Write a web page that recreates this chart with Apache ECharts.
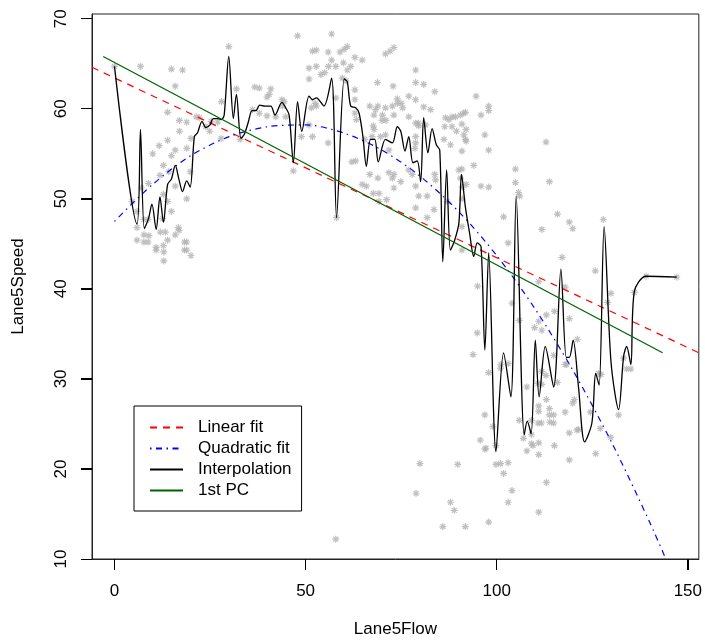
<!DOCTYPE html>
<html><head><meta charset="utf-8">
<script src="https://cdn.jsdelivr.net/npm/echarts@6/dist/echarts.min.js"></script>
<style>html,body{margin:0;padding:0;background:#fff}#c{width:705px;height:643px}</style>
</head><body><div id="c"></div>
<script>
const xTicks = [0, 50, 100, 150];
const yTicks = [10, 20, 30, 40, 50, 60, 70];
const seriesNames = ['Linear fit', 'Quadratic fit', 'Interpolation', '1st PC'];

// observed (Lane5Flow, Lane5Speed) points
const observations = [
[0,64.7],[6.8,64.7],[14.9,64.4],[17.8,64.3],[15.9,62.5],[13.9,59.6],[17.0,58.7],[18.9,58.5],[17.0,57.5],[13.9,56.5],
[11.7,55.9],[10.0,55.0],[15.9,55.4],[14.9,54.8],[18.9,55.6],[20.0,56.7],[12.8,53.7],[14.2,53.0],[11.9,52.6],[19.8,53.0],
[15.9,51.4],[8.9,51.7],[7.0,51.2],[18.9,50.0],[12.8,50.5],[13.9,49.7],[4.6,49.7],[14.9,48.6],[5.9,48.6],[5.9,46.8],
[7.7,47.7],[8.8,47.7],[12.6,47.8],[5.9,45.4],[7.7,45.2],[8.8,45.2],[7.7,46.0],[9.0,45.9],[12.0,46.3],[13.3,46.3],
[10.9,44.6],[12.8,44.8],[13.9,45.4],[16.9,46.5],[16.7,46.8],[15.9,46.0],[18.3,45.2],[18.9,45.2],[18.3,44.3],[18.9,44.3],
[12.9,44.1],[12.9,43.1],[20.0,43.7],[10.9,44.3],
[29.9,66.9],[31.9,62.2],[28.0,60.8],[32.9,56.6],[36.7,62.4],[37.9,62.3],[40.9,62.2],[40.5,61.6],[39.9,61.3],[43.8,61.0],
[36.1,59.9],[37.9,59.5],[39.9,59.2],[42.2,59.1],[23.9,58.0],[22.2,59.0],[25.3,58.6],[27.0,58.5],[27.9,56.7],[21.4,59.1],[24.9,57.5],
[47.9,68.1],[56.8,68.3],[51.8,66.4],[52.8,66.5],[55.9,66.3],[59.0,66.3],[60.1,66.6],[60.9,66.9],[56.8,65.4],[59.9,65.1],
[50.9,64.5],[52.8,64.7],[56.0,64.7],[57.9,64.7],[60.9,64.3],[61.8,64.7],[62.9,65.7],[64.8,65.4],[54.0,63.8],[55.0,64.0],
[50.9,63.3],[70.9,66.1],[72.1,66.4],[73.1,66.8],[59.6,63.4],[60.6,63.1],[62.9,62.1],[62.9,61.0],[57.9,61.2],[68.8,62.9],
[72.9,62.5],[78.8,64.3],[78.8,62.9],[80.9,62.7],[83.8,61.9],[77.0,61.4],[74.0,61.1],[78.8,61.0],[80.9,60.2],[44.4,60.8],
[44.0,60.3],[44.8,59.1],[52.5,60.6],[51.5,60.1],[52.8,60.3],[66.8,60.3],[68.9,60.3],[68.3,59.9],[67.9,59.3],[70.9,60.1],
[72.7,60.3],[74.0,60.6],[75.0,60.6],[75.4,60.1],[73.1,59.3],[70.1,59.3],[71.0,58.7],[70.0,58.7],[77.0,59.1],[78.8,58.4],
[79.5,58.4],[79.6,58.1],[82.7,59.9],[81.4,58.2],[62.9,59.5],[63.3,58.8],[67.7,58.1],[67.9,57.7],[50.9,58.2],[51.8,56.9],
[55.9,56.2],[48.9,56.9],[46.8,53.1],[65.5,56.6],[67.4,56.9],[70.9,57.1],[69.6,56.9],[71.8,55.4],[62.1,54.1],[63.1,54.2],
[64.8,51.6],[65.9,51.4],[66.8,52.7],[68.9,52.3],[67.7,50.6],[69.2,50.6],[71.8,52.9],[73.1,52.7],[72.7,52.3],[73.1,51.2],
[71.2,49.9],[69.2,49.7],[74.9,51.9],[77.0,53.2],[77.9,52.7],[78.8,51.4],[79.6,50.3],[81.8,50.3],[78.8,49.0],[81.8,47.9],
[83.8,52.7],[84.0,52.1],[87.0,49.7],[90.5,52.3],[90.1,53.2],[91.0,51.3],[91.0,50.0],[83.6,48.8],[78.8,56.9],[78.8,56.2],
[78.6,55.6],[86.6,59.0],[87.5,58.8],[88.3,59.1],[89.2,59.1],[90.5,59.3],[91.4,59.5],[86.4,58.0],[88.3,58.0],[89.5,57.5],
[91.4,57.1],[91.8,56.6],[86.2,56.6],[87.9,56.0],[90.9,55.3],[94.0,53.7],[94.6,61.4],[95.0,40.3],[58.1,47.9],
[97.9,60.3],[97.9,59.8],[95.9,59.3],[91.8,59.6],[90.9,58.3],[92.0,57.7],[96.9,57.1],[92.0,56.4],[97.9,55.4],[90.9,53.3],
[92.0,51.6],[95.9,51.4],[97.9,51.3],[112.9,56.3],[104.9,53.3],[104.9,51.8],[105.7,50.7],[106.0,50.3],[113.8,51.9],[101.8,48.0],
[115.9,48.3],[111.8,46.6],[103.0,45.1],[119.0,47.4],[119.9,46.7],[127.9,47.7],[90.9,46.9],[90.9,44.3],[117.1,43.5],[111.0,40.8],
[125.8,42.0],[117.9,40.2],[129.9,39.5],[136.0,39.6],[139.1,41.4],[147.1,41.3],
[104.0,38.4],[94.9,35.1],[93.8,32.7],[97.9,30.7],[105.9,36.5],[109.9,35.7],[111.0,36.4],[113.0,37.1],[115.1,37.5],[111.8,35.4],
[119.0,36.7],[121.1,34.4],[114.9,32.6],[117.9,31.6],[118.3,31.6],[111.8,30.8],[112.9,30.4],[110.8,29.5],[111.8,29.4],[115.9,29.6],
[126.6,30.6],[127.3,30.5],[129.0,38.5],[133.2,32.3],[134.0,31.1],[135.1,31.1],[101.0,31.2],[101.1,31.6],[103.0,31.7],[107.9,29.1],
[113.0,27.7],[111.0,27.0],[111.0,26.4],[113.8,26.7],[113.8,26.0],[114.9,26.0],[113.9,25.2],[111.7,25.1],[110.8,25.1],[114.9,25.1],
[117.9,26.3],[119.9,27.3],[120.3,27.7],[96.9,26.0],[99.0,24.7],[105.9,25.4],[109.1,25.4],[109.1,23.8],[107.0,23.4],[107.9,22.0],
[109.1,22.8],[109.5,22.6],[111.0,22.9],[111.0,21.6],[115.1,22.6],[119.0,24.0],[119.0,21.0],[121.0,24.3],[121.4,24.4],[124.5,26.3],
[125.9,21.7],[127.1,24.5],[129.8,23.5],[131.9,26.0],[95.7,23.2],[96.9,22.2],[97.2,22.3],[99.8,22.6],[99.8,20.5],[101.0,20.6],
[103.0,20.7],[101.8,19.5],[104.0,17.6],[103.0,16.3],[113.0,18.5],[111.0,15.2],[97.9,14.1],[91.8,13.6],[85.9,13.6],[87.9,16.3],
[88.9,15.4],[79.9,20.6],[89.8,20.5],[78.9,17.3],[57.9,12.2]
];

// interpolation curve nodes
const interpolation = [
[0,64.7],[5.9,47.2],[6.8,57.7],[7.8,46.7],[8.9,47.8],[9.8,49.4],[10.9,46.6],[11.9,50.2],[12.8,47.4],[13.9,51.6],
[14.9,52.2],[15.9,53.7],[16.9,52.1],[17.8,50.8],[18.9,52.0],[19.8,51.3],[20.9,56.9],[21.7,57.3],[22.9,58.6],[23.9,57.9],
[25.0,58.2],[25.8,58.9],[27.0,58.9],[28.0,58.8],[28.7,59.3],[29.9,65.8],[31.1,58.9],[31.9,61.6],[33.1,56.7],[34.0,57.2],
[35.0,58.5],[36.0,59.8],[37.0,59.8],[38.0,60.4],[39.4,60.3],[40.9,60.3],[42.0,59.3],[43.8,60.7],[44.8,60.1],[45.7,59.3],
[46.8,54.0],[47.9,60.8],[49.0,57.5],[50.9,61.4],[51.8,61.0],[52.8,61.2],[54.8,60.3],[56.8,63.4],[58.1,47.9],[60.1,63.3],
[60.9,63.0],[61.8,60.3],[63.1,60.1],[64.0,59.5],[65.0,56.9],[65.9,53.6],[67.0,56.6],[68.1,56.6],[69.0,54.1],[70.9,56.6],
[72.7,56.2],[74.0,58.0],[74.9,57.5],[76.0,55.3],[77.0,56.9],[78.1,54.0],[79.2,54.2],[80.1,51.9],[80.9,59.0],[82.0,55.1],
[83.1,57.8],[84.2,56.0],[85.1,55.4],[85.9,43.0],[86.9,53.2],[87.9,44.3],[89.0,45.4],[90.1,47.3],[90.8,52.7],[91.8,49.1],
[92.9,46.2],[94.0,43.6],[94.9,45.1],[95.9,44.7],[96.9,33.2],[97.9,44.0],[99.8,21.9],[101.8,32.9],[103.7,28.0],[105.1,50.3],
[107.2,23.8],[108.0,25.3],[109.0,23.9],[110.1,34.3],[111.1,28.0],[112.7,33.6],[114.9,29.1],[116.8,42.2],[118.2,32.4],[119.0,32.4],
[120.0,34.3],[121.4,29.1],[123.0,23.0],[124.9,25.1],[125.9,30.6],[126.8,29.3],[128.1,46.9],[129.9,31.9],[131.9,26.6],[133.2,32.5],
[134.0,33.6],[135.1,31.6],[136.0,39.7],[139.1,41.4],[147.1,41.3]
];

const linearFit = [[-5.9, 64.6], [152.9, 32.9]];
const quadraticFit = [
[0,47.5],[10,51.6],[20,54.8],[30,56.9],[40,58.0],[50,58.2],[60,57.3],[70,55.4],[80,52.5],[90,48.6],
[100,43.7],[110,37.8],[120,30.9],[130,23.0],[140,14.1],[147,7.3]
];
const firstPC = [[-2.95, 65.8], [143.4, 32.9]];

const FONT = 'Liberation Sans, Arial, Helvetica, sans-serif';
const X_MIN = -5.88, X_MAX = 152.88, Y_MIN = 10, Y_MAX = 70.52;
const chart = echarts.init(document.getElementById('c'), null, {renderer: 'canvas'});
const starPath = 'path://M0,5L10,5M5,0L5,10M1.5,1.5L8.5,8.5M8.5,1.5L1.5,8.5';

chart.setOption({
  animation: false,
  backgroundColor: '#fff',
  grid: {left: 92, right: 6, top: 14, bottom: 84, show: true, borderColor: '#222', borderWidth: 1},
  legend: {
    data: seriesNames, orient: 'vertical', left: 134, top: 406,
    padding: [13, 10, 12, 15], itemWidth: 33, itemHeight: 14, itemGap: 4,
    borderColor: '#000', borderWidth: 1, selectedMode: false, backgroundColor: '#fff',
    itemStyle: {opacity: 0},
    textStyle: {fontFamily: FONT, fontSize: 17, color: '#000', padding: [0, 0, 0, 10]}
  },
  xAxis: {
    type: 'value', min: X_MIN, max: X_MAX,
    axisLine: {show: true, onZero: false, lineStyle: {color: '#222', width: 1}}, splitLine: {show: false},
    axisTick: {show: true, customValues: xTicks, length: 11, lineStyle: {color: '#000', width: 1}},
    axisLabel: {customValues: xTicks, margin: 24, fontSize: 17, color: '#000', fontFamily: FONT},
    name: 'Lane5Flow', nameLocation: 'middle', nameGap: 62,
    nameTextStyle: {fontSize: 17, color: '#000', fontFamily: FONT}
  },
  yAxis: {
    type: 'value', min: Y_MIN, max: Y_MAX,
    axisLine: {show: true, onZero: false, lineStyle: {color: '#222', width: 1}}, splitLine: {show: false},
    axisTick: {show: true, customValues: yTicks, length: 11, lineStyle: {color: '#000', width: 1}},
    axisLabel: {customValues: yTicks, rotate: 90, margin: 22, fontSize: 17, color: '#000', fontFamily: FONT},
    name: 'Lane5Speed', nameLocation: 'middle', nameGap: 65,
    nameTextStyle: {fontSize: 17, color: '#000', fontFamily: FONT}
  },
  series: [
    {type: 'scatter', name: 'obs', data: observations, symbol: starPath, symbolSize: 7, silent: true,
     itemStyle: {color: 'rgba(0,0,0,0)', borderColor: '#b2b2b2', borderWidth: 1.2}},
    {type: 'line', name: seriesNames[0], data: linearFit, symbol: 'none', silent: true,
     lineStyle: {color: '#ff0000', width: 1.2, type: [7, 6]}},
    {type: 'line', name: seriesNames[1], data: quadraticFit, symbol: 'none', smooth: 0.3, silent: true,
     lineStyle: {color: '#0000ff', width: 1.2, type: [1.5, 4.5, 6, 4.5]}},
    {type: 'line', name: seriesNames[2], data: interpolation, symbol: 'none', smooth: 0.3, silent: true,
     lineStyle: {color: '#000000', width: 1.3}},
    {type: 'line', name: seriesNames[3], data: firstPC, symbol: 'none', silent: true,
     lineStyle: {color: '#006400', width: 1.3}}
  ]
});

// backup outward tick marks placed through the axes' own scales
(function () {
  const leftPx = chart.convertToPixel({xAxisIndex: 0}, X_MIN);
  const bottomPx = chart.convertToPixel({yAxisIndex: 0}, Y_MIN);
  if (typeof leftPx !== 'number' || typeof bottomPx !== 'number') return;
  const marks = [];
  xTicks.forEach(function (v) {
    const p = Math.floor(chart.convertToPixel({xAxisIndex: 0}, v)) + 0.5;
    marks.push({type: 'line', silent: true, z: 100,
      shape: {x1: p, y1: Math.round(bottomPx), x2: p, y2: Math.round(bottomPx) + 11},
      style: {stroke: '#000', lineWidth: 1}});
  });
  yTicks.forEach(function (v) {
    const p = Math.floor(chart.convertToPixel({yAxisIndex: 0}, v)) + 0.5;
    marks.push({type: 'line', silent: true, z: 100,
      shape: {x1: Math.round(leftPx) - 11, y1: p, x2: Math.round(leftPx), y2: p},
      style: {stroke: '#000', lineWidth: 1}});
  });
  chart.setOption({graphic: marks});
})();
</script>
</body></html>
